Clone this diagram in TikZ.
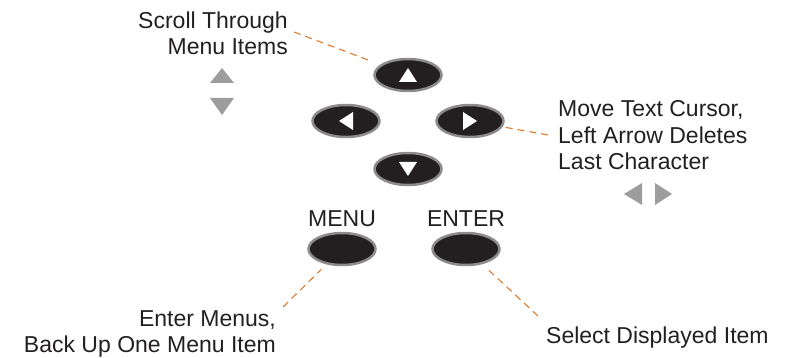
\documentclass[tikz,border=0pt]{standalone}
\usepackage{fontspec}
\setmainfont{Liberation Sans}
\usetikzlibrary{shapes.geometric}
\definecolor{ink}{HTML}{231F20}
\definecolor{rim}{HTML}{8C8C8C}
\definecolor{hint}{HTML}{DD7B2C}
\definecolor{tipgray}{HTML}{9D9D9D}

\begin{document}
\begin{tikzpicture}[x=1pt, y=-1pt,
    key/.style={ellipse, fill=ink, draw=rim, line width=2.5pt,
      minimum width=67pt, minimum height=32pt, inner sep=0},
    lbl/.style={font=\fontsize{23}{26.5}\selectfont, text=ink, inner sep=0},
    lead/.style={draw=hint, line width=1.1pt, dash pattern=on 7pt off 5pt}]
    \useasboundingbox (0, 0) rectangle (789, 358);

    \node[key] (up) at (408, 75)  {};
    \node[key] (lf) at (346, 121) {};
    \node[key] (rt) at (470, 121) {};
    \node[key] (dn) at (408, 169) {};
    \node[key] (menu)  at (342, 249) {};
    \node[key] (enter) at (466, 249) {};

    \foreach \nm/\rot in {up/0, lf/90, rt/-90, dn/180} {
      \fill[white, shift={(\nm)}, rotate=\rot] (-9, 7) -- (9, 7) -- (0, -7) -- cycle;
    }

    \fill[tipgray] (210, 83) -- (234, 83) -- (222, 68) -- cycle;
    \fill[tipgray] (210, 98) -- (234, 98) -- (222, 115) -- cycle;
    \fill[tipgray] (642, 183) -- (642, 205) -- (624, 194) -- cycle;
    \fill[tipgray] (655, 183) -- (655, 205) -- (672, 194) -- cycle;

    \node[lbl, anchor=base] (menutxt)  at (342, 226) {MENU};
    \node[lbl, anchor=base] (entertxt) at (466, 226) {ENTER};

    \node[lbl, anchor=base east, align=right] (scroll) at (288, 55)
      {Scroll Through\\Menu Items};
    \node[lbl, anchor=base west, align=left] (move) at (558, 170)
      {Move Text Cursor,\\Left Arrow Deletes\\Last Character};
    \node[lbl, anchor=base east, align=right] (back) at (276, 352.5)
      {Enter Menus,\\Back Up One Menu Item};
    \node[lbl, anchor=base west] (select) at (546, 343) {Select Displayed Item};

    \coordinate (scrollend) at (294, 32);
    \coordinate (moveend)   at (548, 135);
    \coordinate (backend)   at (283, 307);
    \coordinate (selectend) at (538, 316);

    \draw[lead, shorten >=9pt] (scrollend) -- (up);
    \draw[lead, shorten >=3pt] (moveend) -- (rt);
    \draw[lead, shorten >=7pt] (backend) -- (menu);
    \draw[lead, shorten >=6pt] (selectend) -- (enter);
  \end{tikzpicture}
\end{document}
